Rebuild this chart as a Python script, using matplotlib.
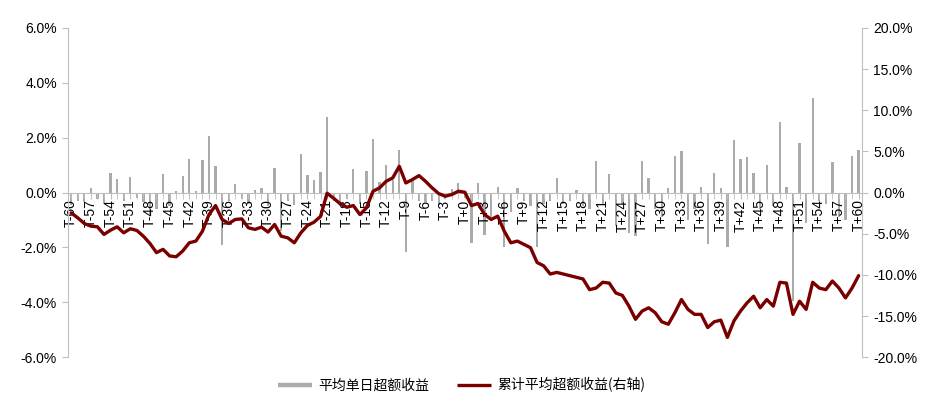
import matplotlib
matplotlib.use("Agg")
import matplotlib.pyplot as plt
from matplotlib.ticker import FuncFormatter, MultipleLocator
from matplotlib.lines import Line2D

plt.rcParams['font.family'] = ['Liberation Sans', 'Noto Sans CJK SC', 'DejaVu Sans']

# event days T-60 ... T+60
days = ["T-%d" % d for d in range(60, 0, -1)] + ["T+0"] + ["T+%d" % d for d in range(1, 61)]

# average daily excess return (%), left axis
daily_ret = [
    -0.45, -0.30, -0.35, 0.17, -0.25, -0.40, 0.72, 0.50, -0.30, 0.56,
    -0.20, -0.35, -0.80, -0.60, 0.68, -0.50, 0.05, 0.62, 1.22, 0.04,
    1.20, 2.05, 0.96, -1.90, -0.30, 0.32, -0.25, -0.40, 0.10, 0.17,
    -0.50, 0.91, -1.40, -0.30, -0.45, 1.42, 0.64, 0.45, 0.76, 2.75,
    -0.30, -0.50, -0.25, 0.87, -0.40, 0.78, 1.95, 0.37, 1.02, 0.47,
    1.54, -2.17, 0.41, -0.30, -0.35, -0.30, -0.45, -0.25, 0.12, 0.35,
    -0.20, -1.83, 0.35, -1.53, -0.90, 0.20, -2.00, -0.70, 0.15, -0.30,
    -0.50, -2.00, -0.40, -0.30, 0.53, -0.40, -0.30, 0.10, -0.50, -0.60,
    1.14, -0.40, 0.68, -1.22, -0.40, -1.47, -1.60, 1.15, 0.52, -0.60,
    -0.90, 0.15, 1.33, 1.53, -1.00, -0.60, 0.20, -1.86, 0.72, 0.16,
    -2.00, 1.90, 1.24, 1.30, 0.72, -0.60, 1.00, -0.50, 2.56, 0.20,
    -3.95, 1.80, -1.10, 3.44, -0.30, -0.40, 1.10, -0.90, -1.00, 1.35,
    1.56,
]

# cumulative average excess return (%), right axis
cum_ret = [
    -2.47, -3.07, -3.76, -4.08, -4.16, -5.09, -4.57, -4.16, -4.89, -4.40,
    -4.60, -5.30, -6.18, -7.30, -6.90, -7.70, -7.80, -7.10, -6.10, -5.90,
    -4.70, -2.67, -1.58, -3.27, -3.76, -3.27, -3.20, -4.28, -4.48, -4.20,
    -4.80, -3.88, -5.30, -5.50, -6.10, -4.89, -4.00, -3.60, -2.90, -0.08,
    -0.70, -1.37, -1.78, -1.58, -2.67, -1.86, 0.16, 0.57, 1.37, 1.78,
    3.19, 1.17, 1.58, 2.06, 1.37, 0.57, -0.12, -0.45, -0.24, 0.16,
    0.04, -1.58, -1.33, -2.67, -3.27, -2.87, -4.69, -6.10, -5.90, -6.30,
    -6.70, -8.50, -8.90, -9.90, -9.70, -9.90, -10.10, -10.30, -10.50, -11.80,
    -11.60, -10.90, -11.00, -12.20, -12.50, -13.80, -15.40, -14.40, -14.00, -14.60,
    -15.70, -16.00, -14.60, -13.00, -14.20, -14.80, -14.80, -16.40, -15.70, -15.50,
    -17.60, -15.60, -14.40, -13.40, -12.60, -14.00, -13.00, -13.80, -10.90, -11.00,
    -14.80, -13.20, -14.20, -10.90, -11.60, -11.80, -10.75, -11.60, -12.80, -11.60,
    -10.10,
]

bar_color = "#ababab"
line_color = "#7a0000"
axis_grey = "#bfbfbf"

fig = plt.figure(figsize=(9.43, 4.11), dpi=100)
ax1 = fig.add_axes([0.072, 0.131, 0.842, 0.801])
ax2 = ax1.twinx()

x = list(range(len(days)))
ax1.bar(x, daily_ret, width=0.35, color=bar_color, zorder=1)
ax2.plot(x, cum_ret, color=line_color, lw=2.4,
         solid_joinstyle="round", solid_capstyle="round")

ax1.set_xlim(-0.5, len(days) - 0.5)
ax1.set_ylim(-6, 6)
ax2.set_ylim(-20, 20)
ax1.yaxis.set_major_locator(MultipleLocator(2))
ax2.yaxis.set_major_locator(MultipleLocator(5))
ax1.yaxis.set_major_formatter(FuncFormatter(lambda v, p: "%.1f%%" % v))
ax2.yaxis.set_major_formatter(FuncFormatter(lambda v, p: "%.1f%%" % v))

# category axis sitting on the zero line
ax1.spines['bottom'].set_position(('data', 0))
ax1.set_xticks(x, minor=True)
ax1.set_xticks(x[::3])
ax1.set_xticklabels(days[::3], rotation=90, fontsize=10)
ax1.tick_params(axis='x', which='both', direction='out', length=4,
                color=axis_grey, pad=1)

for ax in (ax1, ax2):
    ax.spines['top'].set_visible(False)
    for s in ('left', 'right', 'bottom'):
        ax.spines[s].set_color(axis_grey)
ax2.spines['bottom'].set_visible(False)
ax1.spines['right'].set_visible(False)
ax2.spines['left'].set_visible(False)

ax1.tick_params(axis='y', direction='out', length=4, color=axis_grey,
                labelsize=10, pad=4)
ax2.tick_params(axis='y', direction='out', length=4, color=axis_grey,
                labelsize=10, pad=4)

# legend: thick grey stroke for the bars, dark red line for the cumulative
handles = [Line2D([0], [0], color=bar_color, lw=3.2, solid_capstyle="butt"),
           Line2D([0], [0], color=line_color, lw=2.4, solid_capstyle="butt")]
labels = ["平均单日超额收益", "累计平均超额收益(右轴)"]
fig.legend(handles, labels, loc='center', bbox_to_anchor=(0.49, 0.063),
           ncol=2, frameon=False, handlelength=2.4, handletextpad=0.5,
           columnspacing=2.0,
           prop={'family': ['Noto Sans CJK SC', 'DejaVu Sans'], 'size': 10})

fig.savefig("out.png", dpi=100)
